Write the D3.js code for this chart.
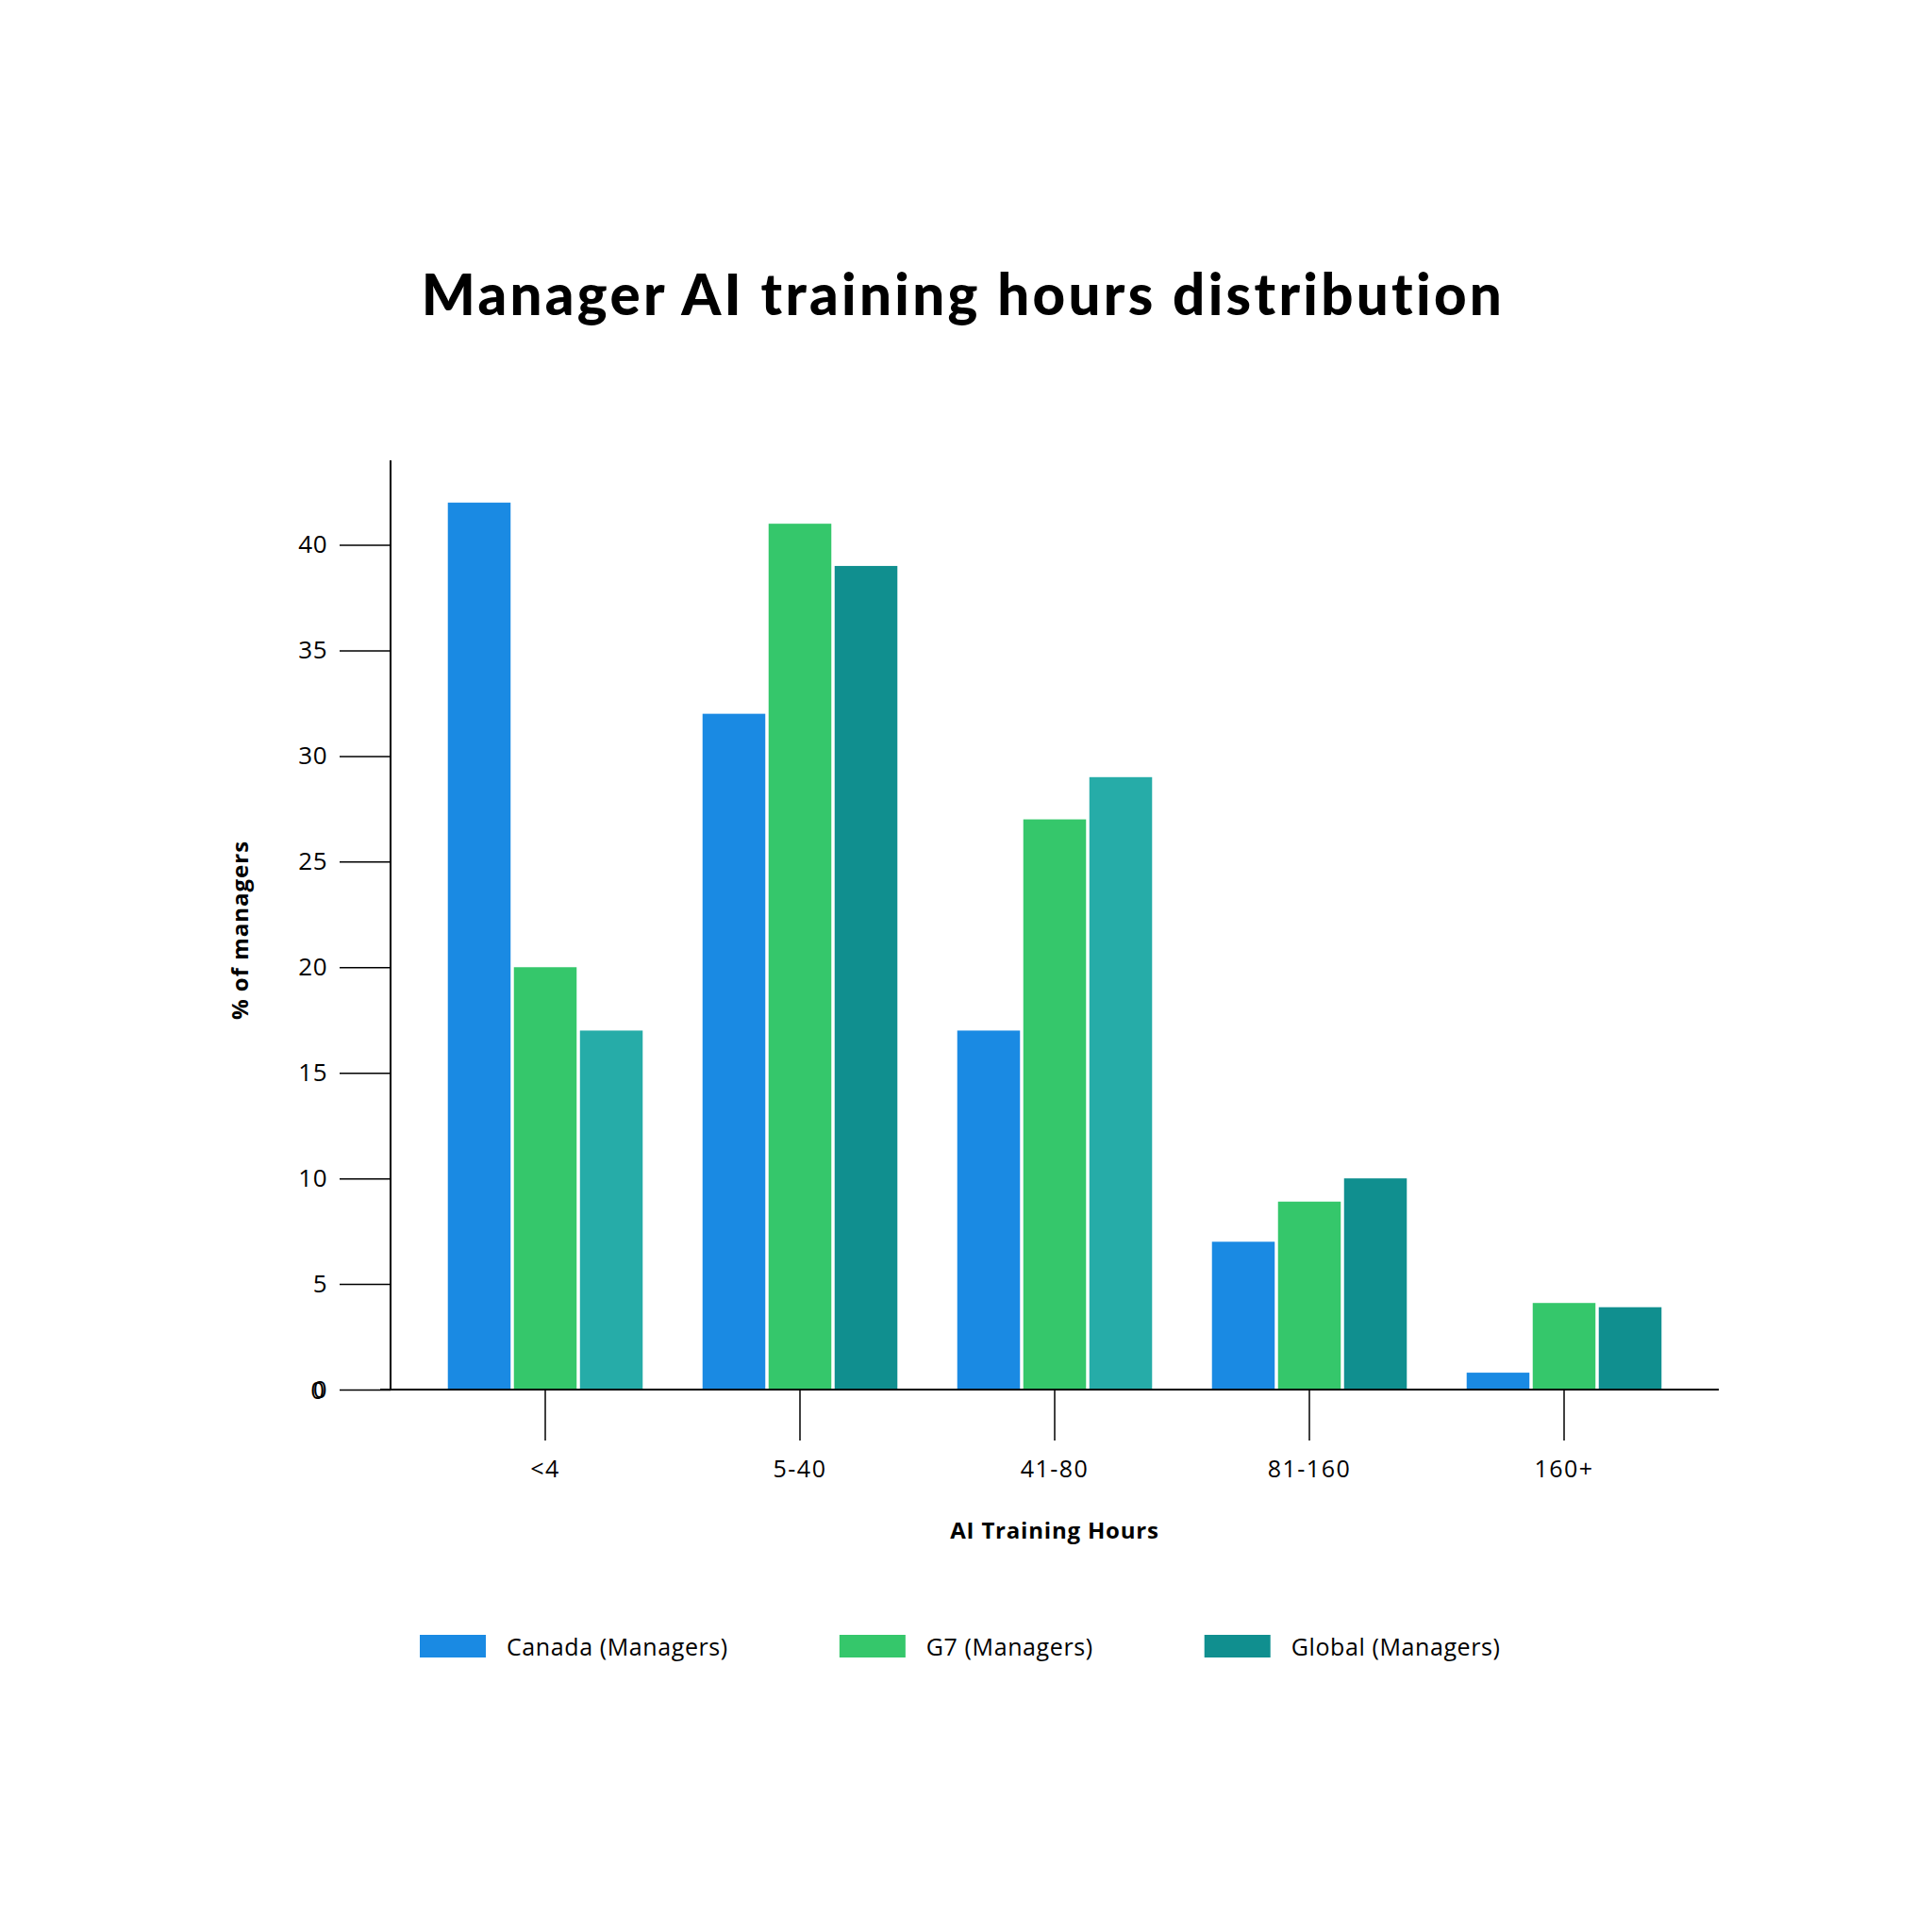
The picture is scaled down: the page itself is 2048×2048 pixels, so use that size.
<!DOCTYPE html>
<html>
<head>
<meta charset="utf-8">
<script src="https://cdn.jsdelivr.net/npm/d3@7"></script>
<style>
  body { margin: 0; background: #ffffff; }
</style>
</head>
<body>
<div id="chart"></div>
<script>
// values
const categories = ["<4", "5-40", "41-80", "81-160", "160+"];
const series = ["Canada (Managers)", "G7 (Managers)", "Global (Managers)"];
const canada = [42, 32, 17, 7, 0.8];
const g7 = [20, 41, 27, 8.9, 4.1];
const global = [17, 39, 29, 10, 3.9];
const yTicks = [0, 5, 10, 15, 20, 25, 30, 35, 40];

const width = 2048,
      height = 2048,
      baseY = 1473,
      axisX = 414,
      tickLen = 54,
      font = "'Open Sans', sans-serif";

const colors = ["#1a8ae3", "#35c76b", "#108f8f"];
// the global bar is a lighter teal in two of the groups
const globalShade = ["#26aca8", "#108f8f", "#26aca8", "#108f8f", "#108f8f"];

const values = [canada, g7, global];

const svg = d3.select("#chart").append("svg")
      .attr("width", width)
      .attr("height", height)
      .style("background", "#ffffff");

const x = d3.scaleBand(categories, [443, 1793])
      .paddingInner(0.235)
      .paddingOuter(0.1175);

const xSub = d3.scaleBand(d3.range(series.length), [0, x.bandwidth()])
      .paddingInner(0.05);

const y = d3.scaleLinear([0, 44], [baseY, 488]);

// title
svg.append("text")
    .attr("x", 1021)
    .attr("y", 334)
    .attr("text-anchor", "middle")
    .attr("font-family", "Lato, sans-serif")
    .attr("font-weight", 900)
    .attr("font-size", 60)
    .attr("letter-spacing", "3.3px")
    .style("font-variant-ligatures", "none")
    .attr("fill", "#000")
    .text("Manager AI training hours distribution");

// bars
svg.append("g")
    .selectAll("g")
    .data(categories)
    .join("g")
    .attr("transform", function(d) { return `translate(${x(d)},0)`; })
    .selectAll("rect")
    .data(function(d, i) {
        return series.map(function(s, j) {
            return { j: j, i: i, v: values[j][i] };
        });
    })
    .join("rect")
    .attr("x", function(d) { return xSub(d.j); })
    .attr("width", xSub.bandwidth())
    .attr("y", function(d) { return y(d.v); })
    .attr("height", function(d) { return baseY - y(d.v); })
    .attr("fill", function(d) {
        return d.j === 2 ? globalShade[d.i] : colors[d.j];
    });

// y axis
const yAxis = svg.append("g")
      .attr("transform", `translate(${axisX},0)`)
      .call(d3.axisLeft(y).tickValues(yTicks).tickSize(tickLen).tickSizeOuter(0).tickPadding(13));

yAxis.select(".domain").remove();
yAxis.append("line")
    .attr("x1", 0).attr("x2", 0)
    .attr("y1", 488).attr("y2", baseY)
    .attr("stroke", "#000")
    .attr("stroke-width", 2);
yAxis.selectAll(".tick line").attr("stroke-width", 1.5);
yAxis.selectAll(".tick text")
    .attr("font-family", font)
    .attr("font-size", 26)
    .attr("letter-spacing", "0.5px")
    .attr("fill", "#000");

// the reference shows the zero label drawn twice, slightly off
yAxis.append("text")
    .attr("x", -tickLen - 16)
    .attr("y", y(0) + 2)
    .attr("dy", "0.32em")
    .attr("text-anchor", "end")
    .attr("font-family", font)
    .attr("font-size", 26)
    .attr("fill", "#000")
    .text("0");

// x axis
const xAxis = svg.append("g")
      .attr("transform", `translate(0,${baseY})`)
      .call(d3.axisBottom(x).tickSize(tickLen).tickSizeOuter(0).tickPadding(21));

xAxis.select(".domain").remove();
xAxis.append("line")
    .attr("x1", 403).attr("x2", 1822)
    .attr("y1", 0).attr("y2", 0)
    .attr("stroke", "#000")
    .attr("stroke-width", 2);
xAxis.selectAll(".tick line").attr("stroke-width", 1.5);
xAxis.selectAll(".tick text")
    .attr("font-family", font)
    .attr("font-size", 25)
    .attr("letter-spacing", "1.5px")
    .attr("fill", "#000");

// axis titles
svg.append("text")
    .attr("x", 1118)
    .attr("y", 1631)
    .attr("text-anchor", "middle")
    .attr("font-family", font)
    .attr("font-weight", 700)
    .attr("font-size", 24)
    .attr("letter-spacing", "0.8px")
    .attr("fill", "#000")
    .text("AI Training Hours");

svg.append("text")
    .attr("transform", "translate(263,986) rotate(-90)")
    .attr("text-anchor", "middle")
    .attr("font-family", font)
    .attr("font-weight", 700)
    .attr("font-size", 24)
    .attr("letter-spacing", "1px")
    .attr("fill", "#000")
    .text("% of managers");

// legend
const legend = svg.append("g")
      .attr("transform", "translate(445,1733)");

let lx = 0;
series.forEach(function(s, j) {
    const item = legend.append("g").attr("transform", `translate(${lx},0)`);
    item.append("rect")
        .attr("width", 70)
        .attr("height", 24)
        .attr("fill", colors[j]);
    const t = item.append("text")
        .attr("x", 92)
        .attr("y", 22)
        .attr("font-family", font)
        .attr("font-size", 25)
        .attr("letter-spacing", "0.6px")
        .attr("fill", "#000")
        .text(s);
    lx += 92 + t.node().getComputedTextLength() + 118;
});
</script>
</body>
</html>
